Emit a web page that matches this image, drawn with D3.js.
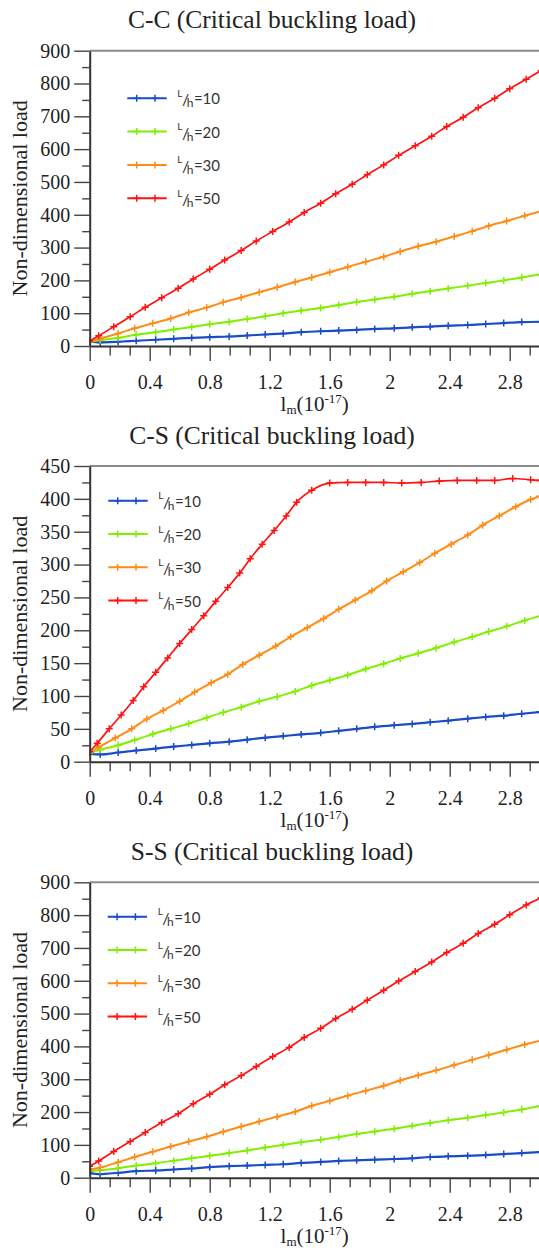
<!DOCTYPE html>
<html>
<head>
<meta charset="utf-8">
<script src="https://cdn.jsdelivr.net/npm/d3@7"></script>
<style>
  html, body { margin: 0; padding: 0; background: #fff; }
  svg { display: block; }
</style>
</head>
<body>
<svg id="chart" width="539" height="1250"></svg>
<script>
// ---------------- data ----------------
const seriesLabels = ["10", "20", "30", "50"];

// sampling positions of l_m (10^-17) for the plotted points
const xGridA = [0, 0.07, 0.19, 0.31, 0.44, 0.56, 0.68, 0.80, 0.93, 1.05, 1.17, 1.29, 1.41, 1.54, 1.66, 1.78, 1.90, 2.03, 2.15, 2.27, 2.39, 2.52, 2.64, 2.76, 2.88, 3.00];
const xGridB = [0, 0.07, 0.19, 0.30, 0.42, 0.54, 0.66, 0.78, 0.89, 1.01, 1.13, 1.25, 1.37, 1.48, 1.60, 1.72, 1.84, 1.96, 2.07, 2.19, 2.31, 2.43, 2.55, 2.66, 2.78, 2.90, 3.02];
const xGridC = [0, 0.06, 0.16, 0.27, 0.37, 0.48, 0.59, 0.69, 0.80, 0.90, 1.01, 1.11, 1.22, 1.33, 1.43, 1.54, 1.64, 1.75, 1.85, 1.96, 2.06, 2.17, 2.28, 2.38, 2.49, 2.59, 2.70, 2.80, 2.91, 3.01];
const xGridD = [0, 0.06, 0.17, 0.28, 0.38, 0.49, 0.60, 0.70, 0.81, 0.92, 1.02, 1.13, 1.24, 1.34, 1.45, 1.56, 1.66, 1.77, 1.88, 1.98, 2.09, 2.20, 2.30, 2.41, 2.52, 2.62, 2.73, 2.84, 2.94, 3.00];
const xCS50 = [0, 0.05, 0.13, 0.21, 0.29, 0.36, 0.44, 0.52, 0.60, 0.68, 0.76, 0.84, 0.92, 1.00, 1.07, 1.15, 1.23, 1.31, 1.38, 1.48, 1.60, 1.72, 1.84, 1.96, 2.08, 2.21, 2.33, 2.45, 2.58, 2.70, 2.82, 2.94, 3.00];

// C-C
const yCC10 = [13, 11, 13, 16, 19, 22, 25, 27, 29, 32, 35, 38, 42, 45, 47, 49, 52, 54, 57, 59, 62, 64, 67, 70, 73, 74];
const yCC20 = [13, 18, 25, 34, 42, 50, 58, 66, 74, 82, 91, 100, 108, 116, 125, 134, 142, 150, 159, 167, 175, 184, 192, 200, 209, 218];
const yCC30 = [13, 23, 38, 54, 69, 84, 102, 117, 133, 148, 164, 179, 195, 209, 225, 241, 257, 272, 288, 304, 318, 334, 350, 366, 381, 397, 412];
const yCC50 = [15, 31, 59, 89, 118, 147, 176, 204, 234, 262, 291, 320, 349, 378, 407, 435, 464, 493, 522, 552, 581, 610, 639, 669, 697, 726, 755, 784, 813, 840];

// C-S
const yCS10 = [12, 11, 14, 17, 20, 23, 25.5, 28, 30.5, 33.5, 36.5, 39, 41.5, 44, 47, 50, 53, 55.5, 57.5, 60, 62.5, 65.5, 68, 70, 73, 75.5];
const yCS20 = [13, 18, 25, 33, 42, 50, 58, 67, 75, 83, 92, 99, 107, 116, 124, 132, 141, 149, 157, 165, 173, 182, 190, 198, 206, 215, 223];
const yCS30 = [14, 22, 36, 50, 65, 78, 92, 106, 120, 133, 148, 162, 176, 190, 204, 218, 232, 246, 260, 275, 289, 303, 317, 331, 345, 360, 374, 388, 399, 404];
const yCS50 = [15, 28, 50, 71, 93, 114, 136, 158, 180, 201, 222, 244, 265, 287, 309, 331, 352, 374, 395, 413, 424, 425, 425, 425, 424, 425, 427, 428, 428, 428, 431, 429, 428];

// S-S
const ySS10 = [14, 11, 15, 20, 22, 25, 28, 32, 35, 37, 39, 41, 45, 48, 51, 53, 55, 57, 59, 63, 65, 67, 69, 72, 75, 78];
const ySS20 = [20, 23, 29, 37, 44, 52, 59, 67, 75, 83, 92, 100, 108, 116, 124, 133, 141, 149, 158, 167, 175, 183, 191, 199, 208, 218];
const ySS30 = [25, 31, 47, 63, 79, 95, 110, 125, 140, 156, 171, 186, 201, 219, 234, 250, 265, 280, 296, 312, 327, 343, 359, 374, 390, 406, 419];
const ySS50 = [35, 51, 80, 110, 138, 168, 195, 225, 254, 283, 311, 339, 369, 397, 427, 455, 485, 513, 541, 571, 599, 628, 657, 686, 714, 744, 772, 801, 831, 853];

// axes
const xTickValues = [0, 0.4, 0.8, 1.2, 1.6, 2, 2.4, 2.8];
const xTickLabels = ["0", "0.4", "0.8", "1.2", "1.6", "2", "2.4", "2.8"];
const yTicks900 = [0, 100, 200, 300, 400, 500, 600, 700, 800, 900];
const yTicks450 = [0, 50, 100, 150, 200, 250, 300, 350, 400, 450];

const titles = ["C-C (Critical buckling load)", "C-S (Critical buckling load)", "S-S (Critical buckling load)"];

// ---------------- styling / layout ----------------
const colors = ["#1a4cc8", "#7ef000", "#ff8c16", "#ff1212"];
const widths = [2.2, 2, 2, 1.7];
const serif = "'Liberation Serif', 'Times New Roman', serif";
const sans = "Lato, 'Open Sans', sans-serif";

const panels = [
  { title: titles[0], top: 50.7, bottom: 346, yMax: 900, yTicks: yTicks900, minorStep: 50,
    legend: { x: 127.3, y: 98.3 },
    series: [[xGridA, yCC10], [xGridA, yCC20], [xGridB, yCC30], [xGridC, yCC50]] },
  { title: titles[1], top: 466, bottom: 761.7, yMax: 450, yTicks: yTicks450, minorStep: 25,
    legend: { x: 108.3, y: 500.7 },
    series: [[xGridA, yCS10], [xGridB, yCS20], [xGridD, yCS30], [xCS50, yCS50]] },
  { title: titles[2], top: 882.3, bottom: 1177.7, yMax: 900, yTicks: yTicks900, minorStep: 50,
    legend: { x: 107.7, y: 916.7 },
    series: [[xGridA, ySS10], [xGridA, ySS20], [xGridB, ySS30], [xGridC, ySS50]] }
];

const svg = d3.select("#chart");
const x = d3.scaleLinear().domain([0, 3]).range([89.7, 539.7]);
const xMinor = d3.range(0, 23).map(k => k * 0.4 / 3).filter((d, k) => k % 3 !== 0);
const markerPath = "M-3.5,0H3.5M0,-3.5V3.5";

panels.forEach((p, pi) => {
  const g = svg.append("g");
  const y = d3.scaleLinear().domain([0, p.yMax]).range([p.bottom, p.top]);

  // title
  g.append("text")
    .attr("x", 272).attr("y", p.top - 22.5)
    .attr("text-anchor", "middle")
    .style("font-family", serif).style("font-size", "25.5px").style("fill", "#222")
    .text(p.title);

  // clip region of the plot
  const clipId = "clip" + pi;
  g.append("clipPath").attr("id", clipId)
    .append("rect")
    .attr("x", x(0)).attr("y", p.top - 1)
    .attr("width", x(3) - x(0)).attr("height", p.bottom - p.top + 2);

  const plot = g.append("g").attr("clip-path", `url(#${clipId})`);
  const line = d3.line().x(d => x(d[0])).y(d => y(d[1])).curve(d3.curveMonotoneX);

  p.series.forEach(([xs, ys], si) => {
    const pts = xs.map((xv, i) => [xv, ys[i]]);
    plot.append("path")
      .attr("d", line(pts))
      .attr("fill", "none")
      .attr("stroke", colors[si])
      .attr("stroke-width", widths[si])
      .attr("stroke-linejoin", "round");
    plot.selectAll(null).data(pts).enter().append("path")
      .attr("transform", d => `translate(${x(d[0])},${y(d[1])})`)
      .attr("d", markerPath)
      .attr("stroke", colors[si])
      .attr("stroke-width", 1.5)
      .attr("fill", "none");
  });

  // top frame line
  g.append("line")
    .attr("x1", x(0)).attr("x2", 539).attr("y1", y(p.yMax)).attr("y2", y(p.yMax))
    .attr("stroke", "#8c8c8c").attr("stroke-width", 2);

  // y axis: minor ticks then major ticks with labels
  const yMinor = d3.range(0, p.yMax + 1, p.minorStep).filter(v => p.yTicks.indexOf(v) < 0);
  g.append("g").attr("transform", `translate(${x(0)},0)`)
    .call(d3.axisLeft(y).tickValues(yMinor).tickSize(7.5).tickSizeOuter(0).tickFormat(""))
    .call(s => s.select(".domain").remove());
  const yAx = g.append("g").attr("transform", `translate(${x(0)},0)`)
    .call(d3.axisLeft(y).tickValues(p.yTicks).tickSize(15.5).tickSizeOuter(0).tickPadding(4));
  yAx.selectAll("text").style("font-family", serif).style("font-size", "20px").style("fill", "#222");

  // x axis: minor ticks then major ticks with labels
  g.append("g").attr("transform", `translate(0,${p.bottom})`)
    .call(d3.axisBottom(x).tickValues(xMinor).tickSize(9.5).tickSizeOuter(0).tickFormat(""))
    .call(s => s.select(".domain").remove());
  const xAx = g.append("g").attr("transform", `translate(0,${p.bottom})`)
    .call(d3.axisBottom(x).tickValues(xTickValues).tickSize(15).tickSizeOuter(0).tickPadding(14)
      .tickFormat((d, i) => xTickLabels[i]));
  xAx.selectAll("text").style("font-family", serif).style("font-size", "20px").style("fill", "#222");

  g.selectAll(".domain").attr("stroke", "#333").attr("stroke-width", 2);
  g.selectAll(".tick line").attr("stroke", "#444").attr("stroke-width", 1.4);

  // x axis title: l_m(10^-17)
  const xt = g.append("text")
    .attr("x", (x(0) + x(3)) / 2).attr("y", p.bottom + 65)
    .attr("text-anchor", "middle")
    .style("font-family", serif).style("font-size", "21px").style("fill", "#222");
  xt.append("tspan").text("l");
  xt.append("tspan").attr("dy", 3).style("font-size", "13px").text("m");
  xt.append("tspan").attr("dy", -3).text("(10");
  xt.append("tspan").attr("dy", -8).style("font-size", "13px").text("-17");
  xt.append("tspan").attr("dy", 8).text(")");

  // y axis title
  g.append("text")
    .attr("transform", `translate(27,${(p.top + p.bottom) / 2}) rotate(-90)`)
    .attr("text-anchor", "middle")
    .style("font-family", serif).style("font-size", "22px").style("fill", "#222")
    .text("Non-dimensional load");

  // legend
  seriesLabels.forEach((lab, si) => {
    const ly = p.legend.y + si * 33.3;
    const lx = p.legend.x;
    g.append("line")
      .attr("x1", lx).attr("x2", lx + 39.4).attr("y1", ly).attr("y2", ly)
      .attr("stroke", colors[si]).attr("stroke-width", 2);
    [9.4, 27.7].forEach(off => {
      g.append("path")
        .attr("transform", `translate(${lx + off},${ly})`)
        .attr("d", markerPath)
        .attr("stroke", colors[si]).attr("stroke-width", 1.5).attr("fill", "none");
    });
    const t = g.append("text")
      .attr("x", lx + 50).attr("y", ly + 6)
      .style("font-family", sans).style("font-size", "15px").style("fill", "#333");
    t.append("tspan").attr("y", ly - 1.5).style("font-size", "10px").text("L");
    t.append("tspan").attr("y", ly + 7).attr("dx", -0.5).style("font-size", "16px").text("/");
    t.append("tspan").attr("y", ly + 9).attr("dx", -2.5).style("font-size", "12px").text("h");
    t.append("tspan").attr("y", ly + 6).attr("dx", 0.5).text("=" + lab);
  });
});
</script>
</body>
</html>
